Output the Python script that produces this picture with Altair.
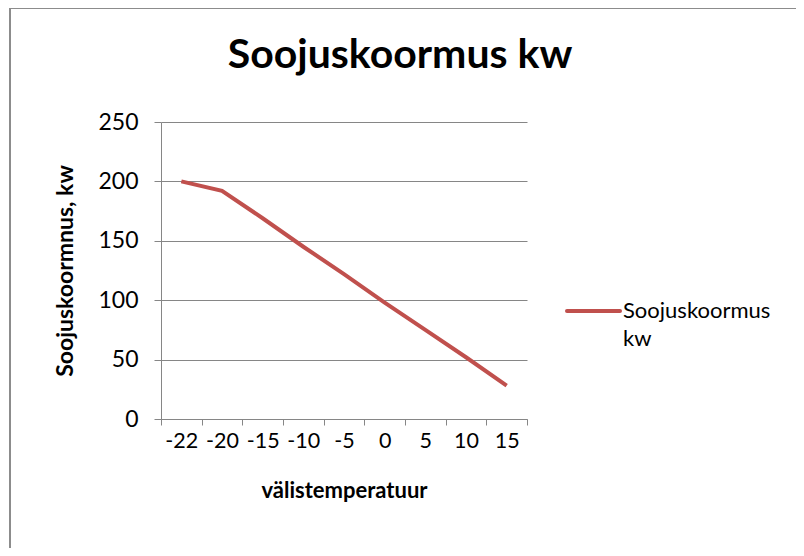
import altair as alt
import pandas as pd

temps = ["-22", "-20", "-15", "-10", "-5", "0", "5", "10", "15"]
load_kw = [200, 192, 169, 145, 122, 98, 75, 52, 28]
series_name = "Soojuskoormus kw"

df = pd.DataFrame({"temp": temps, "load": load_kw, "series": [series_name] * len(temps)})

FONT = "Lato"
GRAY = "#868686"
RED = "#C0504D"

line = alt.Chart(df).mark_line(strokeWidth=4, color=RED).encode(
    x=alt.X("temp:O", sort=None, scale=alt.Scale(paddingInner=0, paddingOuter=0),
            axis=alt.Axis(title="välistemperatuur", labelAngle=0, tickBand="extent",
                          tickSize=6, labelPadding=5, titlePadding=29, titleFontSize=22,
                          labelFontSize=21.5,
                          domainColor=GRAY, tickColor=GRAY, grid=False)),
    y=alt.Y("load:Q", scale=alt.Scale(domain=[0, 250], nice=False),
            axis=alt.Axis(title="Soojuskoormnus, kw", values=[0, 50, 100, 150, 200, 250],
                          tickSize=7, labelPadding=16, titlePadding=20, titleFontSize=23,
                          labelFontSize=23,
                          domainColor=GRAY, tickColor=GRAY, gridColor=GRAY)),
)

legend_data = alt.Data(values=[{"series": series_name}])
legend_line = alt.Chart(legend_data).mark_rule(strokeWidth=4, color=RED, strokeCap="round").encode(
    x=alt.value(406), x2=alt.value(459), y=alt.value(189)
)
legend_text = alt.Chart(legend_data).mark_text(
    text=series_name.split(" "), font=FONT, fontSize=22, lineHeight=28,
    align="left", baseline="middle", color="#000000"
).encode(x=alt.value(462), y=alt.value(189))

frame = alt.Chart(alt.Data(values=[{}])).mark_rect(
    fill=None, stroke="#8c8c8c", strokeWidth=2
).encode(
    x=alt.value(-151), x2=alt.value(700), y=alt.value(-114), y2=alt.value(500)
)

chart = alt.layer(frame, line, legend_line, legend_text).properties(
    width=366,
    height=297,
    padding={"left": 153, "top": 114, "right": 269, "bottom": 129},
    autosize=alt.AutoSizeParams(type="none"),
    title=alt.TitleParams("Soojuskoormus kw", fontSize=41, font=FONT, fontWeight="bold",
                          anchor="middle", frame="group", dx=56, dy=114, offset=44,
                          color="#000000"),
).configure_view(stroke=None).configure_axis(
    labelFont=FONT, titleFont=FONT,
    titleFontWeight="bold", labelColor="#000000", titleColor="#000000"
)

chart.save("out.html", embed_options={"renderer": "svg", "actions": False})
